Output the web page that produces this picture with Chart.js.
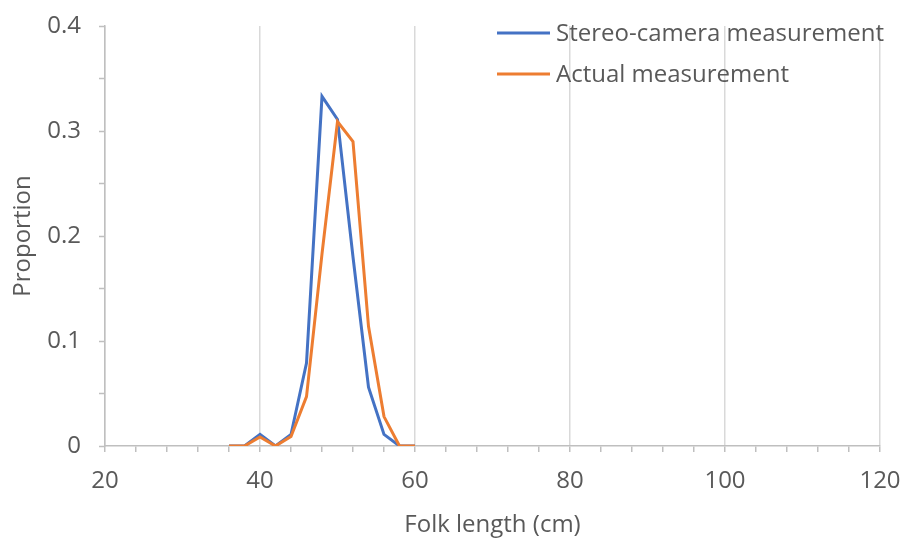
<!DOCTYPE html>
<html>
<head>
<meta charset="utf-8">
<script src="https://cdn.jsdelivr.net/npm/chart.js@4.4.1/dist/chart.umd.min.js"></script>
<style>
  html, body { margin: 0; padding: 0; background: #ffffff; }
  #wrap { width: 901px; height: 538px; position: relative; }
</style>
</head>
<body>
<div id="wrap"><canvas id="c" width="901" height="538"></canvas></div>
<script>
const lengthsCm = [36, 38, 40, 42, 44, 46, 48, 50, 52, 54, 56, 58, 60];
const stereoCamera = [0, 0, 0.011, 0, 0.011, 0.079, 0.333, 0.311, 0.18, 0.056, 0.011, 0, 0];
const actualMeasure = [0, 0, 0.0085, 0, 0.009, 0.047, 0.183, 0.309, 0.290, 0.114, 0.028, 0, 0];
const seriesLabels = ['Stereo-camera measurement', 'Actual measurement'];
const xAxisTitle = 'Folk length (cm)';
const yAxisTitle = 'Proportion';

const FONT = "'Open Sans', 'Noto Sans', sans-serif";
const TXT = '#595959';
const BLUE = '#4472C4';
const ORANGE = '#ED7D31';

const toPts = (ys) => lengthsCm.map((x, i) => ({ x: x, y: ys[i] }));

const insideLegend = {
  id: 'insideLegend',
  afterDraw(chart) {
    const ctx = chart.ctx;
    const rows = [33, 74];
    ctx.save();
    ctx.font = "24px " + FONT;
    ctx.textBaseline = 'middle';
    ctx.textAlign = 'left';
    chart.data.datasets.forEach((ds, i) => {
      const y = rows[i];
      ctx.strokeStyle = ds.borderColor;
      ctx.lineWidth = 3;
      ctx.beginPath();
      ctx.moveTo(497, y);
      ctx.lineTo(550, y);
      ctx.stroke();
      ctx.fillStyle = TXT;
      ctx.fillText(ds.label, 556, y + 1);
    });
    ctx.restore();
  }
};

new Chart(document.getElementById('c'), {
  type: 'line',
  data: {
    datasets: [
      { label: seriesLabels[0], data: toPts(stereoCamera), borderColor: BLUE, backgroundColor: BLUE,
        borderWidth: 3, pointRadius: 0, tension: 0, fill: false, order: 1 },
      { label: seriesLabels[1], data: toPts(actualMeasure), borderColor: ORANGE, backgroundColor: ORANGE,
        borderWidth: 3, pointRadius: 0, tension: 0, fill: false, order: 0 }
    ]
  },
  options: {
    responsive: false,
    animation: false,
    devicePixelRatio: 1,
    layout: { padding: { left: 0, right: 21, top: 26, bottom: 0 } },
    plugins: {
      legend: { display: false },
      tooltip: { enabled: false }
    },
    scales: {
      x: {
        type: 'linear',
        min: 20, max: 120,
        afterFit(s) { s.height = 92; s.paddingLeft = 0; s.paddingRight = 0; },
        border: { display: true, color: '#bfbfbf', width: 1.5 },
        grid: {
          color: (c) => (c.tick && Math.round(c.tick.value) % 20 === 0) ? '#d9d9d9' : 'rgba(0,0,0,0)',
          lineWidth: 1.5,
          drawTicks: true,
          tickLength: 6,
          tickColor: '#bfbfbf',
          tickWidth: 1.5
        },
        ticks: {
          stepSize: 4,
          autoSkip: false,
          maxRotation: 0,
          padding: 15,
          color: TXT,
          font: { family: FONT, size: 24 },
          callback: (v) => (Math.round(v) % 20 === 0) ? String(v) : ''
        },
        title: {
          display: true,
          text: xAxisTitle,
          color: TXT,
          font: { family: FONT, size: 24, lineHeight: 1.1 },
          padding: { top: 0, bottom: 0 }
        }
      },
      y: {
        min: 0, max: 0.4,
        afterFit(s) { s.width = 105; s.paddingTop = 0; s.paddingBottom = 0; },
        border: { display: true, color: '#bfbfbf', width: 1.5 },
        grid: {
          color: 'rgba(0,0,0,0)',
          drawTicks: true,
          tickLength: 6,
          tickColor: '#bfbfbf',
          tickWidth: 1.5
        },
        ticks: {
          stepSize: 0.05,
          autoSkip: false,
          padding: 18,
          color: TXT,
          font: { family: FONT, size: 24 },
          callback: (v) => {
            const k = Math.round(v * 100);
            return (k % 10 === 0) ? String(k / 100) : '';
          }
        },
        title: {
          display: true,
          text: yAxisTitle,
          color: TXT,
          font: { family: FONT, size: 24, lineHeight: 1.2 },
          padding: { top: 9, bottom: 8 }
        }
      }
    }
  },
  plugins: [insideLegend]
});
</script>
</body>
</html>
